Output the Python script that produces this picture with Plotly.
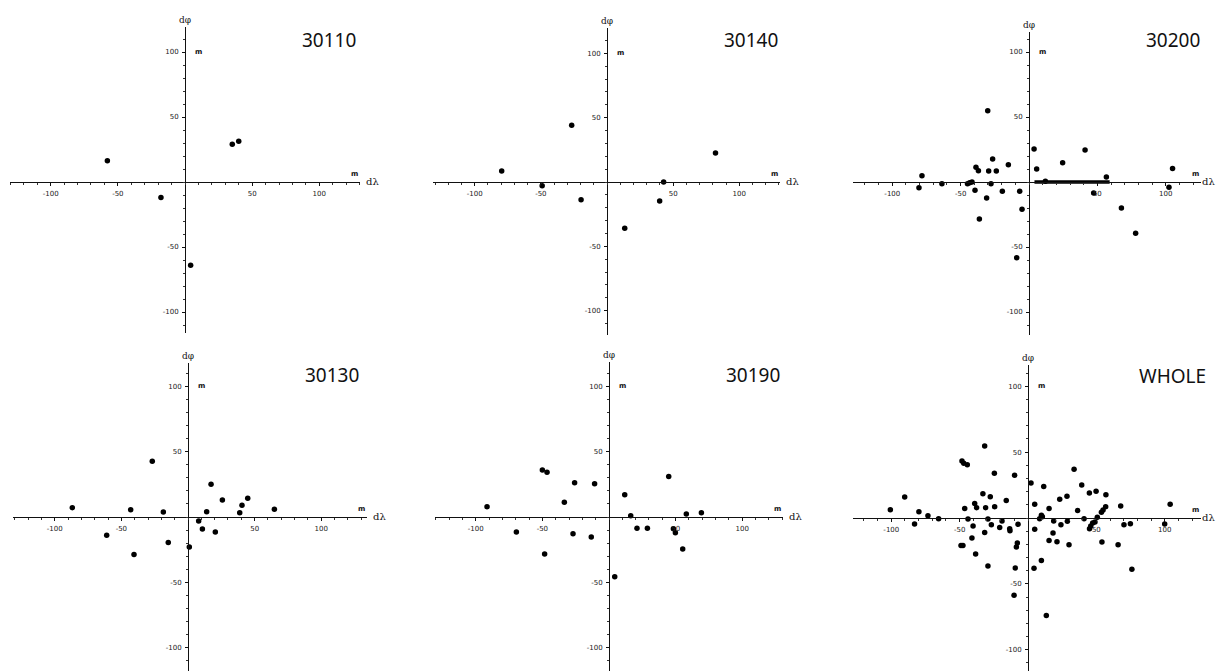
import plotly.graph_objects as go

W, H = 1217, 671

# ---------------- data ----------------
titles = ["30110", "30140", "30200", "30130", "30190", "WHOLE"]

x_30110 = [-57.8, -17.9, 35.2, 40.0, 4.2]
y_30110 = [16.4, -12.0, 29.0, 31.3, -64.0]

x_30140 = [-26.7, -79.6, -49.0, -19.6, 13.4, 42.8, 39.8, 82.0]
y_30140 = [44.0, 8.5, -3.0, -13.7, -36.0, 0.0, -14.8, 22.5]

x_30200 = [-30.2, 3.7, 41.0, -26.6, -15.1, 24.6, -38.8, -37.0, -29.5, -23.9, 5.6,
           -78.3, -80.5, -63.7, -45.0, -43.4, -41.7, -27.8, -39.5, -19.5, -6.8,
           -31.0, -5.1, -36.3, -9.0, 12.0, 56.6, 47.3, 67.6, 78.0, 105.0, 102.4]
y_30200 = [54.9, 25.4, 24.6, 17.7, 13.3, 14.9, 11.3, 8.7, 8.5, 8.5, 10.0,
           4.9, -4.4, -1.3, -1.3, -0.5, 0.0, -1.3, -6.4, -7.2, -7.2,
           -12.3, -21.0, -28.5, -58.2, 0.5, 3.8, -8.5, -20.0, -39.5, 10.3, -4.1]
bar_x_30200 = [4.0, 59.0]
bar_y_30200 = [0.0, 0.0]

x_30130 = [-26.8, 17.3, -86.8, -43.0, -18.5, 25.8, 44.8, 40.5, 38.8, 14.0, 64.8,
           8.0, 10.8, 20.5, -61.0, -14.8, 1.0, -40.5]
y_30130 = [42.6, 25.0, 7.1, 5.6, 3.8, 13.0, 14.3, 8.9, 3.3, 4.1, 5.9,
           -3.0, -9.2, -11.5, -14.0, -19.6, -23.0, -28.6]

x_30190 = [-50.0, -46.5, -25.8, -10.8, 44.8, 11.8, -33.5, -91.5, 16.3, 58.0, 69.3,
           -69.5, -27.0, -13.3, 21.0, 28.8, 48.3, 49.8, 55.3, -48.3, 4.3]
y_30190 = [36.0, 34.2, 26.3, 25.5, 30.9, 17.1, 11.2, 7.9, 1.0, 2.3, 3.3,
           -11.5, -12.8, -15.3, -8.7, -8.7, -8.9, -12.0, -24.5, -28.3, -45.7]

x_whole = [-31.7, -48.3, -47.0, -44.4, 33.7, -24.6, -9.8, 2.2, 11.5, 39.3, -33.0,
           -27.6, -90.2, 28.5, 23.2, -15.9, 44.9, 49.8, 57.0, -39.0, -37.6, -31.0,
           -24.4, -46.3, 4.9, 15.4, 36.3, 56.8, 54.9, 53.7, 67.8, 104.0, -100.7,
           -79.8, -73.2, -65.4, -43.9, -29.3, -26.8, -19.0, -7.3, -13.4, -13.2,
           -20.7, -40.2, -31.7, -41.0, -49.0, -47.6, -38.3, -29.3, -9.3, -7.8,
           -8.5, 4.4, -10.2, 13.4, 9.8, 4.9, 8.5, 9.8, 10.5, 18.8, 24.1, 28.8,
           18.3, 15.4, 21.2, 30.0, 41.0, 45.0, 45.9, 47.3, 49.0, 50.7, 54.1,
           65.9, 70.2, 74.9, 76.0, 100.0, -83.0]
y_whole = [54.7, 43.3, 41.5, 40.5, 37.0, 33.9, 32.4, 26.6, 24.0, 25.0, 18.5,
           16.2, 16.0, 16.5, 14.2, 13.2, 19.0, 20.3, 17.7, 11.1, 7.8, 7.8,
           8.6, 7.3, 10.4, 7.3, 5.6, 8.6, 6.1, 4.3, 9.1, 10.4, 6.3,
           4.8, 1.8, -0.5, -0.8, -0.8, -5.1, -2.3, -4.8, -8.1, -9.6,
           -7.3, -6.1, -11.1, -15.2, -20.8, -20.8, -27.3, -36.5, -38.0, -19.0,
           -22.0, -38.2, -58.7, -74.0, -32.2, -8.6, -0.5, 2.0, 1.0, -2.3, -5.1, -2.5,
           -11.4, -17.0, -18.0, -20.3, -0.5, -8.1, -6.1, -3.8, -3.0, 0.5, -18.2,
           -20.3, -5.1, -4.3, -39.0, -4.6, -4.6]

series_x = [x_30110, x_30140, x_30200, x_30130, x_30190, x_whole]
series_y = [y_30110, y_30140, y_30200, y_30130, y_30190, y_whole]

tick_vals = [-100, -50, 50, 100]
tick_text = ["-100", "-50", "50", "100"]

# ---------------- layout geometry (pixels) ----------------
# origin (px), scale px/unit, x-axis extent, y-axis extent
panels = [
    dict(o=(185, 182), s=(1.343, 1.300), xe=(10, 360), ye=(27, 333)),
    dict(o=(607, 182), s=(1.323, 1.287), xe=(433, 780), ye=(28, 335)),
    dict(o=(1029, 182), s=(1.367, 1.300), xe=(853, 1201), ye=(32, 335)),
    dict(o=(188, 517), s=(1.333, 1.307), xe=(13, 367), ye=(363, 671)),
    dict(o=(609, 517), s=(1.333, 1.307), xe=(435, 783), ye=(362, 671)),
    dict(o=(1028, 518), s=(1.367, 1.317), xe=(853, 1201), ye=(365, 671)),
]

fig = go.Figure()
layout = dict(width=W, height=H, margin=dict(l=0, r=0, t=0, b=0),
              paper_bgcolor="white", plot_bgcolor="white", showlegend=False)
annotations = []

tickfont = dict(family="DejaVu Sans", size=7, color="#222")

for i, p in enumerate(panels):
    n = i + 1
    ox, oy = p["o"]
    sx, sy = p["s"]
    xl, xr = p["xe"]
    yt, yb = p["ye"]
    xrange_ = [(xl - ox) / sx, (xr - ox) / sx]
    yrange_ = [(oy - yb) / sy, (oy - yt) / sy]
    xa = "xaxis" if n == 1 else f"xaxis{n}"
    ya = "yaxis" if n == 1 else f"yaxis{n}"
    common = dict(showgrid=False, zeroline=False, showline=True, linecolor="#111",
                  linewidth=1, ticks="outside", ticklen=3, tickcolor="#111",
                  tickvals=tick_vals, ticktext=tick_text, tickfont=tickfont,
                  fixedrange=True,
                  minor=dict(dtick=10, tick0=0, ticks="outside", ticklen=2,
                             tickcolor="#333", showgrid=False))
    layout[xa] = dict(common, domain=[xl / W, xr / W], range=xrange_,
                      anchor="free", position=1 - oy / H, ticklabelstandoff=2)
    layout[ya] = dict(common, domain=[1 - yb / H, 1 - yt / H], range=yrange_,
                      anchor="free", position=ox / W, ticklabelstandoff=2)
    xref = "x" if n == 1 else f"x{n}"
    yref = "y" if n == 1 else f"y{n}"

    fig.add_trace(go.Scatter(x=series_x[i], y=series_y[i], mode="markers",
                             marker=dict(size=5.5, color="black"),
                             xaxis=xref, yaxis=yref, cliponaxis=False))
    if n == 3:
        fig.add_trace(go.Scatter(x=bar_x_30200, y=bar_y_30200, mode="lines",
                                 line=dict(color="black", width=3.5),
                                 xaxis=xref, yaxis=yref))

    # title
    annotations.append(dict(text=titles[i], x=ox + 144, y=oy - 142,
                            font=dict(family="Noto Sans", size=19, color="#111")))
    # axis names
    annotations.append(dict(text="dφ", x=ox, y=yt - 7,
                            font=dict(family="DejaVu Serif", size=9, color="#111")))
    annotations.append(dict(text="dλ", x=min(xr + 12, W - 9), y=oy - 1,
                            font=dict(family="DejaVu Serif", size=10, color="#111")))
    # unit labels
    annotations.append(dict(text="<b>m</b>", x=xr - 6, y=oy - 8,
                            font=dict(family="DejaVu Sans", size=7, color="#111")))
    annotations.append(dict(text="<b>m</b>", x=ox + 13, y=oy - 100 * sy,
                            font=dict(family="DejaVu Sans", size=7, color="#111")))

layout["annotations"] = [dict(a, xref="paper", yref="paper",
                              x=a["x"] / W, y=1 - a["y"] / H,
                              xanchor="center", yanchor="middle", showarrow=False)
                         for a in annotations]
fig.update_layout(**layout)
fig.write_html("out.html")
